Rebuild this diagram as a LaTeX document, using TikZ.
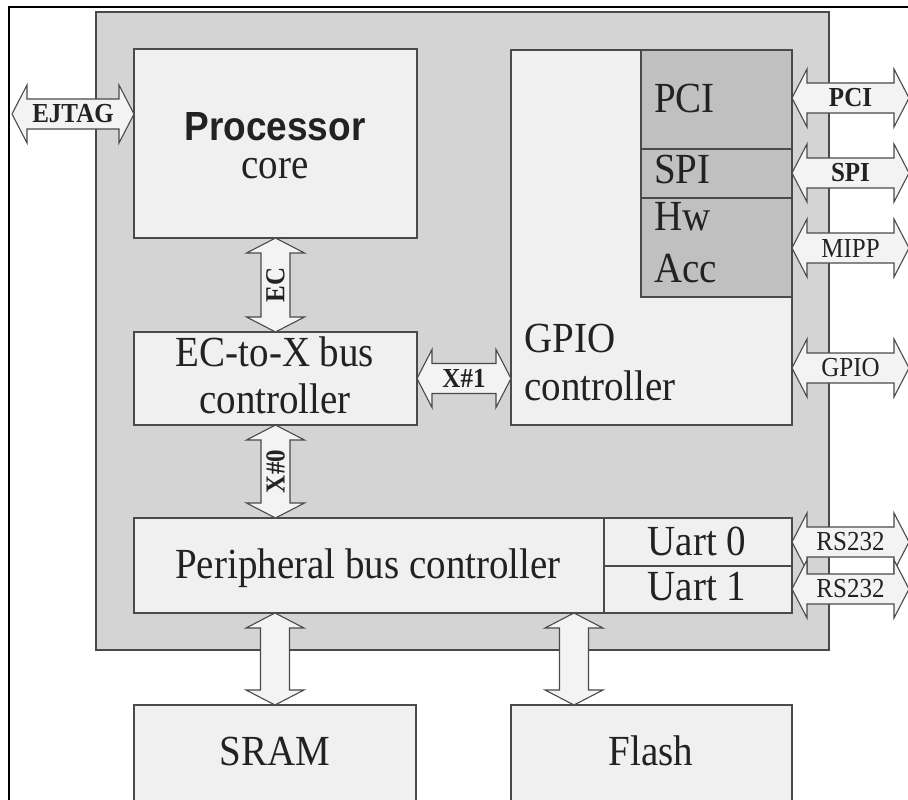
\documentclass[tikz,border=0pt]{standalone}
\usepackage{fontspec}
\setmainfont{Liberation Serif}
\newfontfamily\sansfam{Liberation Sans}
\usetikzlibrary{calc}
\newcommand{\tallt}[1]{\scalebox{1}[1.1]{#1}}
\definecolor{chipf}{HTML}{D4D4D4}
\definecolor{boxf}{HTML}{F0F0F0}
\definecolor{subf}{HTML}{C0C0C0}
\definecolor{edge}{HTML}{4A4A4A}
\definecolor{arrf}{HTML}{F3F3F3}
\definecolor{inkc}{HTML}{222222}
\tikzset{
  blk/.style={draw=edge, line width=1.3pt, fill=boxf, anchor=north west, inner sep=0pt, outer sep=0pt},
  dk/.style={blk, fill=subf},
  big/.style={font=\fontsize{39}{45}\selectfont, inner sep=0pt, anchor=base, text=inkc},
  lbl/.style={font=\fontsize{25}{28}\selectfont, inner sep=0pt, text=inkc},
  lblb/.style={font=\fontsize{25}{28}\selectfont\bfseries, inner sep=0pt, text=inkc},
  hbus/.style={draw=edge, line width=1.1pt, fill=arrf, line join=miter,
    to path={let \p1=(\tikztostart), \p2=(\tikztotarget) in
      (\x1,\y1) -- (\x1+15pt,\y1+29pt) -- (\x1+15pt,\y1+15pt) -- (\x2-15pt,\y1+15pt)
      -- (\x2-15pt,\y1+29pt) -- (\x2,\y1) -- (\x2-15pt,\y1-29pt) -- (\x2-15pt,\y1-15pt)
      -- (\x1+15pt,\y1-15pt) -- (\x1+15pt,\y1-29pt) -- cycle}},
  vbus/.style={draw=edge, line width=1.1pt, fill=arrf, line join=miter,
    to path={let \p1=(\tikztostart), \p2=(\tikztotarget) in
      (\x1,\y1) -- (\x1+29pt,\y1-15pt) -- (\x1+14.5pt,\y1-15pt) -- (\x1+14.5pt,\y2+15pt)
      -- (\x1+29pt,\y2+15pt) -- (\x1,\y2) -- (\x1-29pt,\y2+15pt) -- (\x1-14.5pt,\y2+15pt)
      -- (\x1-14.5pt,\y1-15pt) -- (\x1-29pt,\y1-15pt) -- cycle}},
}
\begin{document}
\begin{tikzpicture}[x=1pt, y=-1pt]
\useasboundingbox[fill=white] (0,0) rectangle (908,800);
\clip (0,0) rectangle (908,800);
% outer frame
\draw[black, line width=1.3pt] (9,7) rectangle (940,840);
% chip area
\draw[draw=edge, line width=1.3pt, fill=chipf] (96,12) rectangle (829,650);
% blocks
\node[blk, minimum width=283pt, minimum height=189pt] (proc) at (134,49) {};
\node[blk, minimum width=283pt, minimum height=93pt] (ecx) at (134,332) {};
\node[blk, minimum width=658pt, minimum height=95pt] (pbc) at (134,518) {};
\node[blk, minimum width=188pt, minimum height=48pt] (uart0) at (604,518) {};
\node[blk, minimum width=188pt, minimum height=47pt] (uart1) at (604,566) {};
\node[blk, minimum width=281pt, minimum height=375pt] (gpio) at (511,50) {};
\node[dk, minimum width=151pt, minimum height=99pt] (pci) at (641,50) {};
\node[dk, minimum width=151pt, minimum height=49pt] (spi) at (641,149) {};
\node[dk, minimum width=151pt, minimum height=99pt] (hw) at (641,198) {};
\node[blk, minimum width=282pt, minimum height=130pt] (sram) at (134,705) {};
\node[blk, minimum width=281pt, minimum height=130pt] (flash) at (511,705) {};
% block texts
\node[inner sep=0pt, anchor=base, text=inkc, font=\sansfam\bfseries\fontsize{37}{40}\selectfont] (tproc) at (275,140) {\tallt{Processor}};
\node[big] (tcore) at (275,178) {\tallt{core}};
\node[big] (tecx1) at (275,366) {\tallt{EC-to-X bus}};
\node[big] (tecx2) at (275,413) {\tallt{controller}};
\node[big] (tpbc) at (368,578) {\tallt{Peripheral bus controller}};
\node[big] (tu0) at (697,555) {\tallt{Uart 0}};
\node[big] (tu1) at (697,600) {\tallt{Uart 1}};
\node[big, anchor=base west] (tgpio1) at (524,352) {\tallt{GPIO}};
\node[big, anchor=base west] (tgpio2) at (524,400) {\tallt{controller}};
\node[big, anchor=base west] (tpci) at (654,112) {\tallt{PCI}};
\node[big, anchor=base west] (tspi) at (654,183) {\tallt{SPI}};
\node[big, anchor=base west] (thw1) at (654,230) {\tallt{Hw}};
\node[big, anchor=base west] (thw2) at (654,282) {\tallt{Acc}};
\node[big] (tsram) at (275,765) {\tallt{SRAM}};
\node[big] (tflash) at (651,765) {\tallt{Flash}};
% bus arrows
\coordinate (ejL) at (12,114);
\draw[hbus] (ejL) to (ejL -| proc.west);
\node[lblb] (lej) at ($(ejL)!0.5!(ejL -| proc.west)$) {\tallt{EJTAG}};
\draw[vbus] (proc.south) to (ecx.north);
\node[lblb, rotate=90] (lec) at ($(proc.south)!0.5!(ecx.north)$) {\tallt{EC}};
\draw[vbus] (ecx.south) to (ecx.south |- pbc.north);
\node[lblb, rotate=90] (lx0) at ($(ecx.south)!0.5!(ecx.south |- pbc.north)$) {\tallt{X\#0}};
\draw[hbus] (ecx.east) to (ecx.east -| gpio.west);
\node[lblb] (lx1) at ($(ecx.east)!0.5!(ecx.east -| gpio.west)$) {\tallt{X\#1}};
% right side
\coordinate (rpci) at (909,98);
\coordinate (rspi) at (909,173);
\coordinate (rmipp) at (909,248);
\coordinate (rgpio) at (909,368);
\coordinate (rrs0) at (909,542);
\coordinate (rrs1) at (909,589);
\draw[hbus] (rpci -| pci.east) to (rpci);
\node[lblb] (lpci) at ($(rpci -| pci.east)!0.5!(rpci)$) {\tallt{PCI}};
\draw[hbus] (rspi -| spi.east) to (rspi);
\node[lblb] (lspi) at ($(rspi -| spi.east)!0.5!(rspi)$) {\tallt{SPI}};
\draw[hbus] (rmipp -| hw.east) to (rmipp);
\node[lbl] (lmipp) at ($(rmipp -| hw.east)!0.5!(rmipp)$) {\tallt{MIPP}};
\draw[hbus] (rgpio -| gpio.east) to (rgpio);
\node[lbl] (lgpio) at ($(rgpio -| gpio.east)!0.5!(rgpio)$) {\tallt{GPIO}};
\draw[hbus] (rrs0 -| uart0.east) to (rrs0);
\node[lbl] (lrs0) at ($(rrs0 -| uart0.east)!0.5!(rrs0)$) {\tallt{RS232}};
\draw[hbus] (rrs1 -| uart1.east) to (rrs1);
\node[lbl] (lrs1) at ($(rrs1 -| uart1.east)!0.5!(rrs1)$) {\tallt{RS232}};
% memory buses
\draw[vbus] (sram.north |- pbc.south) to (sram.north);
\coordinate (flT) at (574,613);
\draw[vbus] (flT) to (flT |- flash.north);
\end{tikzpicture}
\end{document}
